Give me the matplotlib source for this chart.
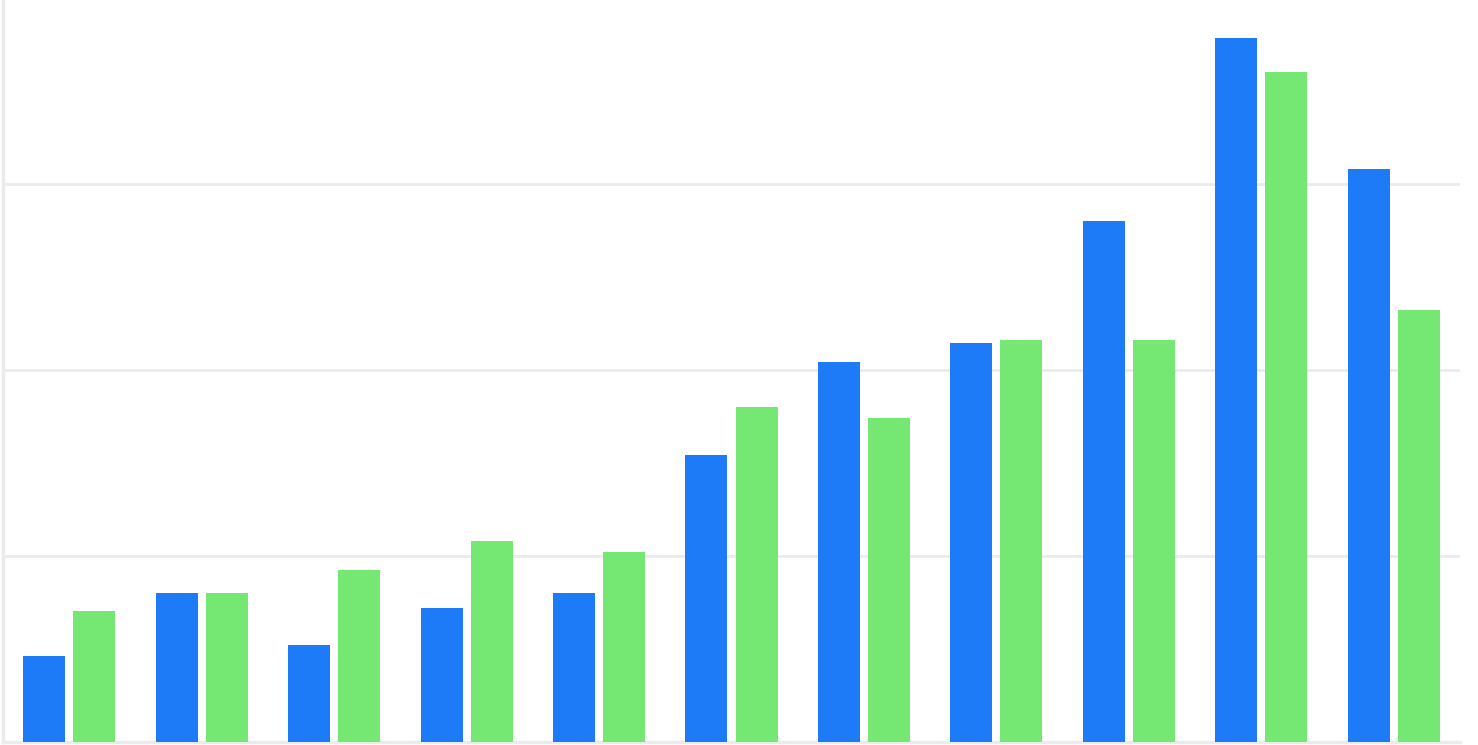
import matplotlib
matplotlib.use("Agg")
import matplotlib.pyplot as plt
import numpy as np

# values (grid step = 50)
groups = list(range(1, 12))
series_a = [23, 40, 26, 36, 40, 77, 102, 107, 140, 189, 154]
series_b = [35, 40, 46, 54, 51, 90, 87, 108, 108, 180, 116]

blue = "#1E7BF8"
green = "#75E773"
grid_col = "#EBEBEB"

fig = plt.figure(figsize=(14.78, 7.45), dpi=100)
ax = fig.add_axes([3 / 1478, 3.5 / 745, 1457 / 1478, 744 / 745])

x = np.arange(len(groups))
w = 0.317
off = 0.189
ax.bar(x - off, series_a, width=w, color=blue, zorder=3)
ax.bar(x + off, series_b, width=w, color=green, zorder=3)

ax.set_xlim(-0.5, len(groups) - 0.5)
ax.set_ylim(0, 200)
ax.set_yticks([0, 50, 100, 150])
ax.yaxis.grid(True, color=grid_col, linewidth=2, zorder=0)
ax.set_axisbelow(True)

for side in ["top", "right"]:
    ax.spines[side].set_visible(False)
for side in ["left", "bottom"]:
    ax.spines[side].set_color(grid_col)
    ax.spines[side].set_linewidth(2.5)

ax.tick_params(left=False, bottom=False, labelleft=False, labelbottom=False)

fig.savefig("out.png", dpi=100)
